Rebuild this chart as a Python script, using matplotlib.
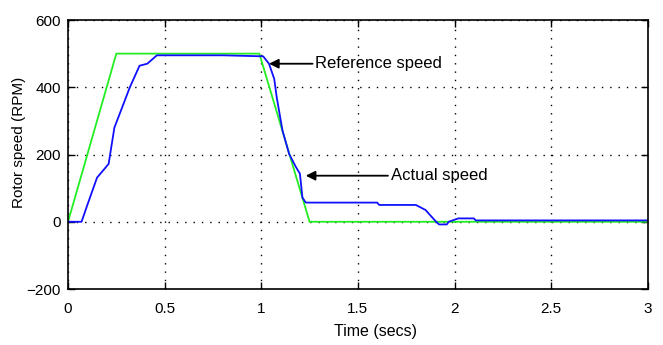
import numpy as np
import matplotlib
matplotlib.use('Agg')
import matplotlib.pyplot as plt

# reference speed (green)
t_ref = [0.0, 0.25, 0.99, 1.25, 3.0]
w_ref = [0, 500, 500, 0, 0]

# actual speed (blue)
t_act = [0.0, 0.07, 0.10, 0.15, 0.21, 0.24, 0.28, 0.32, 0.37, 0.41, 0.46, 0.50,
         0.80, 1.01, 1.04, 1.067, 1.08, 1.11, 1.144, 1.18, 1.20, 1.213, 1.23,
         1.60, 1.61, 1.80, 1.85, 1.90, 1.92, 1.96, 1.97, 2.02, 2.10, 2.11, 3.0]
w_act = [0, 0, 50, 131, 172, 280, 340, 400, 464, 470, 495, 495,
         495, 492, 470, 425, 370, 271, 202, 162, 143, 72, 57,
         57, 50, 50, 35, 3, -8, -8, 0, 10, 10, 4, 4]

xticks = [0, 0.5, 1, 1.5, 2, 2.5, 3]
xticklabels = ['0', '0.5', '1', '1.5', '2', '2.5', '3']
yticks = [-200, 0, 200, 400, 600]

plt.rcParams['font.family'] = ['Liberation Sans Narrow', 'Liberation Sans', 'DejaVu Sans']

fig = plt.figure(figsize=(6.63, 3.45), dpi=100)
ax = fig.add_axes([0.1026, 0.1623, 0.8744, 0.7797])

ax.plot(t_ref, w_ref, color='#22ee22', linewidth=1.3)
ax.plot(t_act, w_act, color='#1010ff', linewidth=1.3)

ax.set_xlim(0, 3)
ax.set_ylim(-200, 600)
ax.set_xticks(xticks)
ax.set_xticklabels(xticklabels)
ax.set_yticks(yticks)
ax.grid(True, color='black', linestyle=(0, (1, 5)), linewidth=1.0)
ax.tick_params(axis='x', pad=9)
ax.tick_params(axis='y', pad=5)
ax.tick_params(axis='both', which='both', direction='in', top=True, right=True,
               length=5, width=1, labelsize=11)
for sp in ax.spines.values():
    sp.set_linewidth(1.2)

ax.set_xlabel('Time (secs)', fontsize=11.5)
ax.set_ylabel('Rotor speed (RPM)', fontsize=11)
ax.xaxis.set_label_coords(0.53, -0.13)
ax.yaxis.set_label_coords(-0.072, 0.545)

ax.annotate('Reference speed', xy=(1.04, 470), xytext=(1.28, 470),
            fontsize=12, va='center', ha='left',
            arrowprops=dict(arrowstyle='-|>', color='black', lw=1.3,
                            mutation_scale=14, shrinkA=0, shrinkB=0))
ax.annotate('Actual speed', xy=(1.23, 137), xytext=(1.67, 137),
            fontsize=12, va='center', ha='left',
            arrowprops=dict(arrowstyle='-|>', color='black', lw=1.3,
                            mutation_scale=14, shrinkA=0, shrinkB=0))

plt.savefig('out.png', dpi=100)
